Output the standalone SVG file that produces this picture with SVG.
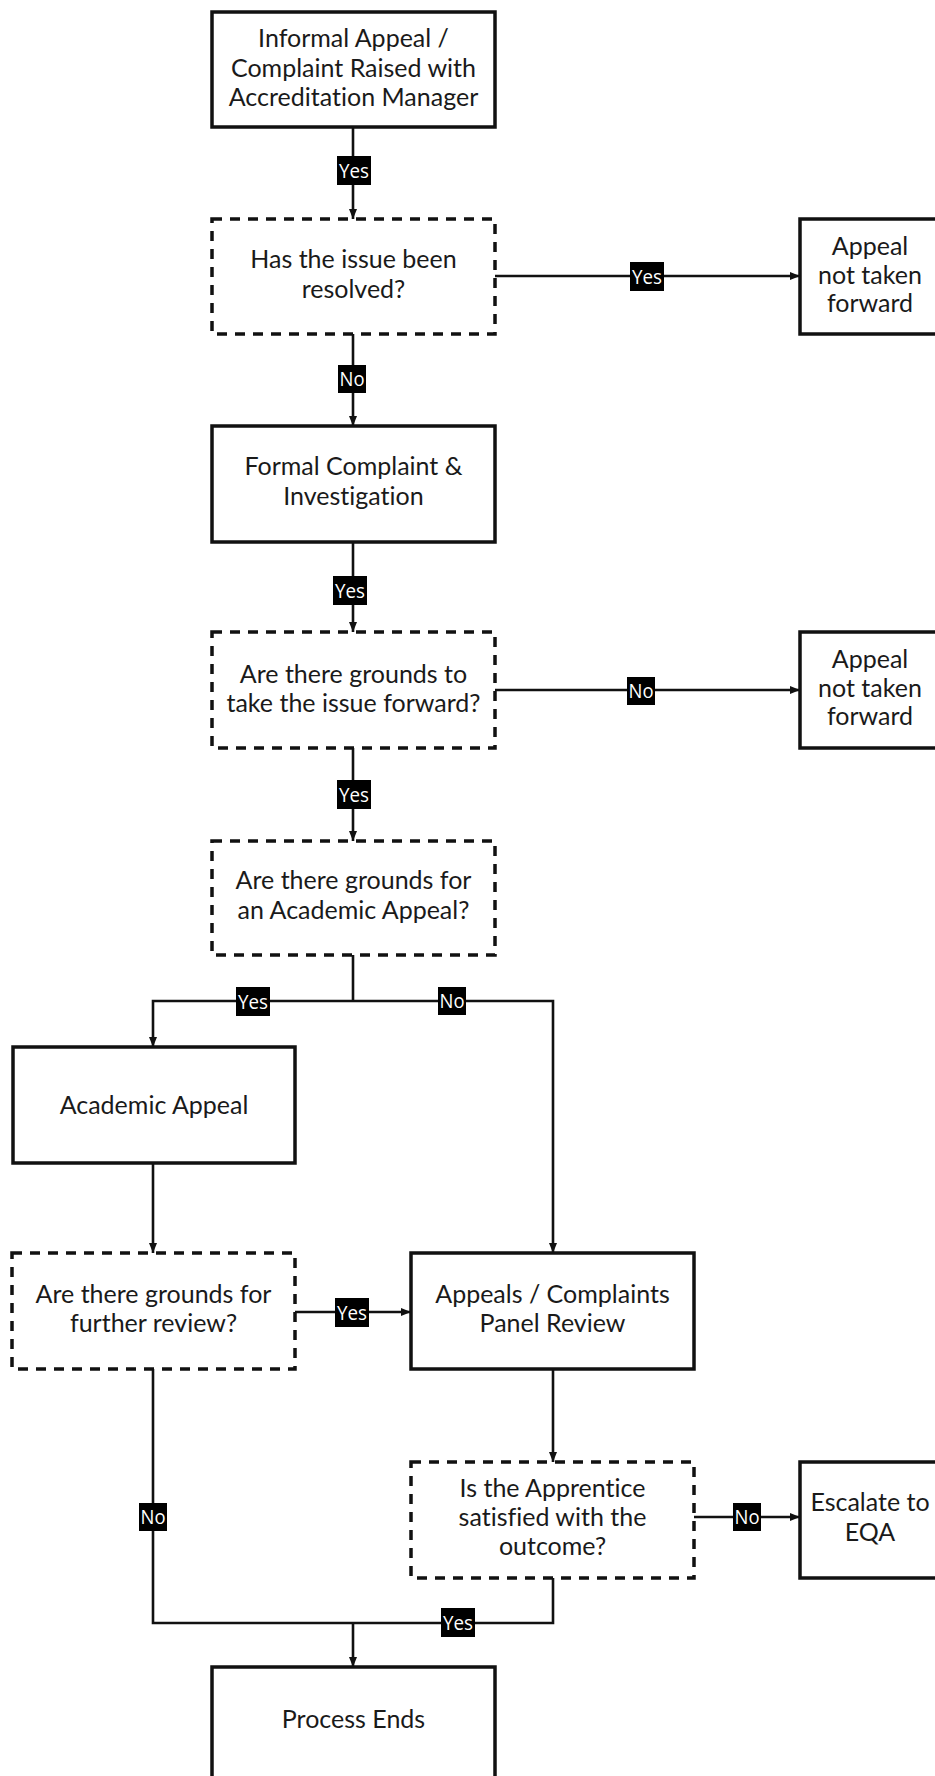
<svg xmlns="http://www.w3.org/2000/svg" width="935" height="1776" viewBox="0 0 935 1776">
<style>
.box{fill:#fff;stroke:#111;stroke-width:3.5}
.dash{fill:#fff;stroke:#111;stroke-width:3.5;stroke-dasharray:10 8}
.t{font-family:Lato,"Noto Sans",sans-serif;font-size:25px;fill:#1a1a1a;text-anchor:middle;font-variant-ligatures:none;font-feature-settings:"liga" 0,"dlig" 0}
.c{fill:none;stroke:#111;stroke-width:2.6}
.lb{fill:#000}
.lt{font-family:"Open Sans","Noto Sans",sans-serif;font-size:20px;fill:#fff;text-anchor:middle}
</style>
<defs>
<marker id="ah" markerUnits="userSpaceOnUse" markerWidth="10" markerHeight="10" viewBox="0 0 10 10" refX="10" refY="5" orient="auto">
<path d="M0,1 L10,5 L0,9 Z" fill="#111"/>
</marker>
</defs>
<rect width="935" height="1776" fill="#fff"/>
<g id="connectors">
<path class="c" d="M353,127 V219" marker-end="url(#ah)"/>
<path class="c" d="M495,276 H800" marker-end="url(#ah)"/>
<path class="c" d="M353,334 V426" marker-end="url(#ah)"/>
<path class="c" d="M353,542 V632" marker-end="url(#ah)"/>
<path class="c" d="M495,690 H800" marker-end="url(#ah)"/>
<path class="c" d="M353,748 V841" marker-end="url(#ah)"/>
<path class="c" d="M353,955 V1001"/>
<path class="c" d="M353,1001 H153 V1047" marker-end="url(#ah)"/>
<path class="c" d="M353,1001 H553 V1253" marker-end="url(#ah)"/>
<path class="c" d="M153,1163 V1253" marker-end="url(#ah)"/>
<path class="c" d="M295,1312 H411" marker-end="url(#ah)"/>
<path class="c" d="M553,1369 V1462" marker-end="url(#ah)"/>
<path class="c" d="M694,1517 H800" marker-end="url(#ah)"/>
<path class="c" d="M153,1369 V1623 H553 V1578"/>
<path class="c" d="M353,1623 V1667" marker-end="url(#ah)"/>
<g id="labels">
<rect class="lb" x="337" y="156" width="34" height="29"/><text class="lt" x="354" y="178" textLength="30" lengthAdjust="spacingAndGlyphs">Yes</text>
<rect class="lb" x="630" y="262" width="34" height="29"/><text class="lt" x="647" y="284" textLength="30" lengthAdjust="spacingAndGlyphs">Yes</text>
<rect class="lb" x="338" y="365" width="28" height="28"/><text class="lt" x="352" y="386" textLength="25" lengthAdjust="spacingAndGlyphs">No</text>
<rect class="lb" x="333" y="576" width="34" height="29"/><text class="lt" x="350" y="598" textLength="30" lengthAdjust="spacingAndGlyphs">Yes</text>
<rect class="lb" x="627" y="677" width="28" height="28"/><text class="lt" x="641" y="698" textLength="25" lengthAdjust="spacingAndGlyphs">No</text>
<rect class="lb" x="337" y="780" width="34" height="29"/><text class="lt" x="354" y="802" textLength="30" lengthAdjust="spacingAndGlyphs">Yes</text>
<rect class="lb" x="236" y="987" width="34" height="29"/><text class="lt" x="253" y="1009" textLength="30" lengthAdjust="spacingAndGlyphs">Yes</text>
<rect class="lb" x="438" y="987" width="28" height="28"/><text class="lt" x="452" y="1008" textLength="25" lengthAdjust="spacingAndGlyphs">No</text>
<rect class="lb" x="335" y="1298" width="34" height="29"/><text class="lt" x="352" y="1320" textLength="30" lengthAdjust="spacingAndGlyphs">Yes</text>
<rect class="lb" x="733" y="1503" width="28" height="28"/><text class="lt" x="747" y="1524" textLength="25" lengthAdjust="spacingAndGlyphs">No</text>
<rect class="lb" x="139" y="1503" width="28" height="28"/><text class="lt" x="153" y="1524" textLength="25" lengthAdjust="spacingAndGlyphs">No</text>
<rect class="lb" x="441" y="1608" width="34" height="29"/><text class="lt" x="458" y="1630" textLength="30" lengthAdjust="spacingAndGlyphs">Yes</text>
</g>
</g>
<g id="n1"><rect class="box" x="212" y="12" width="283" height="115"/>
<text class="t" x="353.5" y="47">Informal Appeal /</text><text class="t" x="353.5" y="77">Complaint Raised with</text><text class="t" x="353.5" y="106">Accreditation Manager</text></g>
<g id="n2"><rect class="dash" x="212" y="219" width="283" height="115"/>
<text class="t" x="353.5" y="268">Has the issue been</text><text class="t" x="353.5" y="298">resolved?</text></g>
<g id="n3"><rect class="box" x="800" y="219" width="142" height="115"/>
<text class="t" x="870" y="255">Appeal</text><text class="t" x="870" y="284">not taken</text><text class="t" x="870" y="312">forward</text></g>
<g id="n4"><rect class="box" x="212" y="426" width="283" height="116"/>
<text class="t" x="353.5" y="475">Formal Complaint &amp;</text><text class="t" x="353.5" y="505">Investigation</text></g>
<g id="n5"><rect class="dash" x="212" y="632" width="283" height="116"/>
<text class="t" x="353.5" y="683">Are there grounds to</text><text class="t" x="353.5" y="712">take the issue forward?</text></g>
<g id="n6"><rect class="box" x="800" y="632" width="142" height="116"/>
<text class="t" x="870" y="668">Appeal</text><text class="t" x="870" y="697">not taken</text><text class="t" x="870" y="725">forward</text></g>
<g id="n7"><rect class="dash" x="212" y="841" width="283" height="114"/>
<text class="t" x="353.5" y="889">Are there grounds for</text><text class="t" x="353.5" y="919">an Academic Appeal?</text></g>
<g id="n8"><rect class="box" x="13" y="1047" width="282" height="116"/>
<text class="t" x="154" y="1114">Academic Appeal</text></g>
<g id="n9"><rect class="dash" x="12" y="1253" width="283" height="116"/>
<text class="t" x="153.5" y="1303">Are there grounds for</text><text class="t" x="153.5" y="1332">further review?</text></g>
<g id="n10"><rect class="box" x="411" y="1253" width="283" height="116"/>
<text class="t" x="552.5" y="1303">Appeals / Complaints</text><text class="t" x="552.5" y="1332">Panel Review</text></g>
<g id="n11"><rect class="dash" x="411" y="1462" width="283" height="116"/>
<text class="t" x="552.5" y="1497">Is the Apprentice</text><text class="t" x="552.5" y="1526">satisfied with the</text><text class="t" x="552.5" y="1555">outcome?</text></g>
<g id="n12"><rect class="box" x="800" y="1462" width="142" height="116"/>
<text class="t" x="870" y="1511">Escalate to</text><text class="t" x="870" y="1541">EQA</text></g>
<g id="n13"><rect class="box" x="212" y="1667" width="283" height="118"/>
<text class="t" x="353.5" y="1728">Process Ends</text></g>
</svg>
